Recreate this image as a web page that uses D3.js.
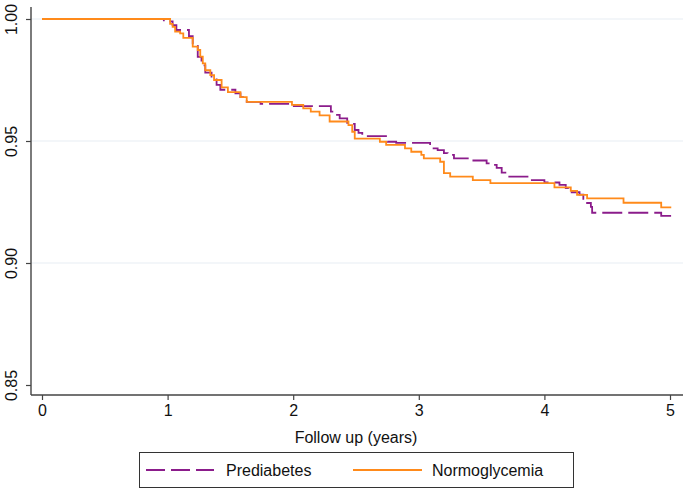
<!DOCTYPE html>
<html>
<head>
<meta charset="utf-8">
<script src="https://cdn.jsdelivr.net/npm/d3@7"></script>
<style>
  body { margin: 0; background: #fff; }
  text { font-family: "Liberation Sans", Arial, sans-serif; fill: #111; }
</style>
</head>
<body>
<svg id="chart"></svg>
<script>
// Kaplan-Meier step data
const normoTimes = [0, 1.02, 1.04, 1.06, 1.10, 1.125, 1.20, 1.24, 1.26, 1.28, 1.30, 1.34, 1.37, 1.43, 1.48, 1.58, 1.63,
  1.99, 2.08, 2.14, 2.21, 2.29, 2.44, 2.47, 2.49, 2.69, 2.74, 2.89, 2.94, 3.02, 3.04, 3.17, 3.20, 3.25, 3.43, 3.57,
  4.08, 4.21, 4.26, 4.34, 4.63, 4.93, 5.01]
const normoSurv = [1.000, 0.998, 0.9968, 0.9948, 0.9941, 0.9923, 0.9887, 0.9873, 0.9846, 0.9818, 0.979, 0.977, 0.975, 0.972, 0.970, 0.968, 0.966,
  0.9648, 0.9634, 0.962, 0.9605, 0.958, 0.9565, 0.9538, 0.951, 0.9497, 0.9484, 0.947, 0.9456, 0.9443, 0.9429, 0.9415, 0.9368, 0.9354, 0.934, 0.9327,
  0.931, 0.9296, 0.9279, 0.9265, 0.9247, 0.9228, 0.9228]

const preTimes = [0, 0.97, 1.04, 1.07, 1.17, 1.20, 1.24, 1.27, 1.30, 1.35, 1.39, 1.42, 1.54, 1.58, 1.63, 1.74, 1.99,
  2.30, 2.33, 2.37, 2.43, 2.49, 2.52, 2.55, 2.75, 2.82, 3.09, 3.15, 3.20, 3.23, 3.28, 3.40, 3.54, 3.58, 3.62, 3.66, 3.71,
  3.90, 4.00, 4.12, 4.17, 4.19, 4.28, 4.31, 4.34, 4.37, 4.38, 4.93, 5.01]
const preSurv = [1.000, 0.999, 0.9975, 0.9955, 0.993, 0.989, 0.9845, 0.981, 0.978, 0.9764, 0.973, 0.971, 0.9695, 0.968, 0.966, 0.9652, 0.9643,
  0.962, 0.9607, 0.9593, 0.957, 0.9545, 0.9533, 0.952, 0.9497, 0.9492, 0.947, 0.9463, 0.945, 0.9443, 0.9429, 0.942, 0.9408, 0.9402, 0.939, 0.937, 0.9354,
  0.934, 0.933, 0.932, 0.9307, 0.929, 0.928, 0.9263, 0.9246, 0.923, 0.9206, 0.9193, 0.9193]

const xTicks = [0, 1, 2, 3, 4, 5]
const yTicks = [0.85, 0.90, 0.95, 1.00]
const gridTicks = [0.90, 0.95, 1.00]

const width = 685
const height = 492

const svg = d3.select('#chart')
  .attr('width', width)
  .attr('height', height)

const x = d3.scaleLinear().domain([0, 5]).range([42, 670])
const y = d3.scaleLinear().domain([0.85, 1.0]).range([385, 19])

const plotLeft = 31, plotRight = 683, plotTop = 7, plotBottom = 395

// gridlines
svg.append('g')
  .selectAll('line')
  .data(gridTicks)
  .join('line')
    .attr('x1', plotLeft)
    .attr('x2', plotRight)
    .attr('y1', d => y(d))
    .attr('y2', d => y(d))
    .attr('stroke', '#e8eef4')
    .attr('stroke-width', 1.2)

// y axis
const yAxis = svg.append('g')
  .attr('transform', `translate(${plotLeft},0)`)
  .call(d3.axisLeft(y).tickValues(yTicks).tickFormat(d3.format('.2f')).tickSize(5).tickSizeOuter(0))
yAxis.select('.domain').remove()
yAxis.append('line')
  .attr('y1', plotTop).attr('y2', plotBottom)
  .attr('stroke', '#444').attr('stroke-width', 1.4)
yAxis.selectAll('.tick line').attr('stroke', '#444').attr('stroke-width', 1.2)
yAxis.selectAll('.tick text')
  .attr('x', 0).attr('dy', null)
  .attr('transform', 'translate(-18,0) rotate(-90)')
  .attr('text-anchor', 'middle')
  .attr('dominant-baseline', 'middle')
  .style('font-size', '16px')
  .style('font-family', '"Liberation Sans", Arial, sans-serif')
  .attr('fill', '#111')

// x axis
const xAxis = svg.append('g')
  .attr('transform', `translate(0,${plotBottom})`)
  .call(d3.axisBottom(x).tickValues(xTicks).tickFormat(d3.format('d')).tickSize(5).tickSizeOuter(0))
xAxis.select('.domain').remove()
xAxis.append('line')
  .attr('x1', plotLeft).attr('x2', plotRight)
  .attr('stroke', '#444').attr('stroke-width', 1.4)
xAxis.selectAll('.tick line').attr('stroke', '#444').attr('stroke-width', 1.2)
xAxis.selectAll('.tick text')
  .attr('y', 10)
  .style('font-size', '16px')
  .style('font-family', '"Liberation Sans", Arial, sans-serif')
  .attr('fill', '#111')

svg.append('text')
  .attr('x', (x(0) + x(5)) / 2)
  .attr('y', 443)
  .attr('text-anchor', 'middle')
  .style('font-size', '16px')
  .text('Follow up (years)')

// curves
const stepLine = d3.line()
  .x(d => x(d[0]))
  .y(d => y(d[1]))
  .curve(d3.curveStepAfter)

svg.append('path')
  .datum(d3.zip(preTimes, preSurv))
  .attr('d', stepLine)
  .attr('fill', 'none')
  .attr('stroke', '#8b1c8b')
  .attr('stroke-width', 1.8)
  .attr('stroke-dasharray', '20,6')

svg.append('path')
  .datum(d3.zip(normoTimes, normoSurv))
  .attr('d', stepLine)
  .attr('fill', 'none')
  .attr('stroke', '#ff8a1a')
  .attr('stroke-width', 1.8)

// legend
const legend = svg.append('g')
legend.append('rect')
  .attr('x', 139.5).attr('y', 452.5)
  .attr('width', 434).attr('height', 35)
  .attr('fill', '#fff')
  .attr('stroke', '#333')
  .attr('stroke-width', 1)

legend.append('line')
  .attr('x1', 146).attr('x2', 214).attr('y1', 470).attr('y2', 470)
  .attr('stroke', '#8b1c8b').attr('stroke-width', 1.8)
  .attr('stroke-dasharray', '19,6')
legend.append('text')
  .attr('x', 226).attr('y', 476)
  .style('font-size', '16px')
  .text('Prediabetes')

legend.append('line')
  .attr('x1', 353).attr('x2', 422).attr('y1', 470).attr('y2', 470)
  .attr('stroke', '#ff8a1a').attr('stroke-width', 1.8)
legend.append('text')
  .attr('x', 432).attr('y', 476)
  .style('font-size', '16px')
  .text('Normoglycemia')
</script>
</body>
</html>
